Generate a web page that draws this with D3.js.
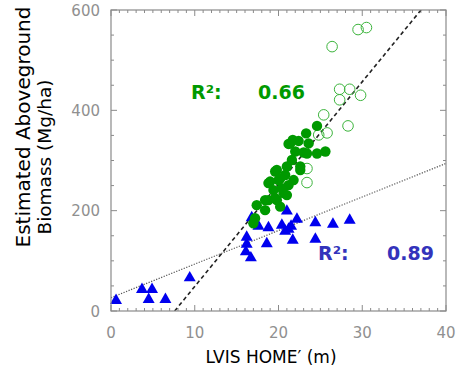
<!DOCTYPE html>
<html><head><meta charset="utf-8">
<script src="https://cdnjs.cloudflare.com/ajax/libs/d3/7.8.5/d3.min.js"></script>
<style>html,body{margin:0;padding:0;background:#fff;}svg{display:block;}</style>
</head><body><div id="chart"></div>
<script>
// ---- data ----
const triX = [0.6, 3.7, 4.9, 4.5, 6.5, 9.4, 16.8, 16.2, 16.2, 16.1, 16.7, 17.6, 18.8, 18.6, 20.4, 21.0, 20.8, 21.5, 22.2, 21.7, 24.4, 24.4, 26.5, 28.5, 21.2];
const triY = [23, 45, 45, 25, 25, 68, 188, 149, 135, 120, 108, 171, 168, 136, 173, 201, 161, 171, 185, 143, 178, 145, 175, 183, 165];

const fillX = [24.6, 23.3, 21.7, 21.2, 22.4, 22.0, 23.0, 24.6, 25.6, 21.6, 22.6, 19.6, 20.8, 20.0, 21.8, 18.8, 19.4, 21.2, 20.6, 19.8, 18.8, 17.4, 18.4, 20.2, 21.4, 23.6, 23.4, 19.8, 21.0, 22.6, 20.2, 19.0, 20.4, 19.6, 21.0, 18.4, 17.2, 17.0];
const fillY = [369, 354, 341, 333, 339, 318, 316, 314, 318, 301, 288, 278, 271, 261, 261, 255, 241, 251, 235, 221, 221, 211, 201, 208, 334, 334, 314, 281, 288, 281, 264, 258, 245, 225, 231, 221, 185, 175];

const openX = [29.5, 30.5, 26.4, 27.3, 28.5, 27.3, 29.8, 25.4, 28.3, 25.8, 24.8, 23.4, 23.4];
const openY = [561, 565, 527, 442, 442, 421, 430, 391, 369, 355, 351, 284, 256];

const xTicks = [0, 10, 20, 30, 40];
const yTicks = [0, 200, 400, 600];
const dashedLine = {x0: 7.6, slope: 20.4};      // y = slope*(x - x0)
const dottedLine = {intercept: 26.6, slope: 6.69}; // y = a + b x
const labels = {xTitle: "LVIS HOME\u2032 (m)", yTitle1: "Estimated Aboveground", yTitle2: "Biomass (Mg/ha)",
  greenR: "R\u00b2:", greenV: "0.66", blueR: "R\u00b2:", blueV: "0.89"};

// ---- layout ----
const W = 459, H = 370;
const L = 111, R = 446, T = 10, B = 311;
const svg = d3.select("#chart").append("svg").attr("width", W).attr("height", H);
const x = d3.scaleLinear().domain([0, 40]).range([L, R]);
const y = d3.scaleLinear().domain([0, 600]).range([B, T]);
const font = "'DejaVu Sans', Verdana, sans-serif";
const frameCol = "#8a8a8a";

svg.append("clipPath").attr("id", "clip").append("rect").attr("x", L).attr("y", T).attr("width", R - L).attr("height", B - T);

// ticks (inward on all four sides)
const minorX = d3.range(0, 41, 1), minorY = d3.range(0, 601, 50);
const tk = svg.append("g").attr("stroke", frameCol).attr("stroke-width", 1);
minorX.forEach(v => {
  const len = v % 10 === 0 ? 6 : 3;
  tk.append("line").attr("x1", x(v)).attr("x2", x(v)).attr("y1", B).attr("y2", B - len);
  tk.append("line").attr("x1", x(v)).attr("x2", x(v)).attr("y1", T).attr("y2", T + len);
});
minorY.forEach(v => {
  const len = v % 200 === 0 ? 6 : 3;
  tk.append("line").attr("y1", y(v)).attr("y2", y(v)).attr("x1", L).attr("x2", L + len);
  tk.append("line").attr("y1", y(v)).attr("y2", y(v)).attr("x1", R).attr("x2", R - len);
});

// fit lines
const plot = svg.append("g").attr("clip-path", "url(#clip)");
plot.append("line")
  .attr("x1", x(dashedLine.x0)).attr("y1", y(0))
  .attr("x2", x(dashedLine.x0 + 600 / dashedLine.slope)).attr("y2", y(600))
  .attr("stroke", "#222").attr("stroke-width", 1.6).attr("stroke-dasharray", "4,3");
plot.append("line")
  .attr("x1", x(0)).attr("y1", y(dottedLine.intercept))
  .attr("x2", x(40)).attr("y2", y(dottedLine.intercept + 40 * dottedLine.slope))
  .attr("stroke", "#555").attr("stroke-width", 1.2).attr("stroke-dasharray", "1.2,1.5");

// points
const sym = d3.symbol().type(d3.symbolTriangle).size(62);
svg.append("g").selectAll("path").data(d3.range(triX.length)).join("path")
  .attr("d", sym).attr("transform", i => `translate(${x(triX[i])},${y(triY[i]) + 1})`)
  .attr("fill", "#0000ee");
svg.append("g").selectAll("circle").data(d3.range(openX.length)).join("circle")
  .attr("cx", i => x(openX[i])).attr("cy", i => y(openY[i])).attr("r", 5.3)
  .attr("fill", "none").attr("stroke", "#3cb43c").attr("stroke-width", 1);
svg.append("g").selectAll("circle").data(d3.range(fillX.length)).join("circle")
  .attr("cx", i => x(fillX[i])).attr("cy", i => y(fillY[i])).attr("r", 5.2)
  .attr("fill", "#009900");

// frame
svg.append("rect").attr("x", L).attr("y", T).attr("width", R - L).attr("height", B - T)
  .attr("fill", "none").attr("stroke", frameCol).attr("stroke-width", 1.2);

// tick labels
svg.append("g").selectAll("text").data(xTicks).join("text")
  .attr("x", d => x(d)).attr("y", 338).attr("text-anchor", "middle")
  .attr("font-family", font).attr("font-size", 15).attr("fill", "#909090").text(d => d);
svg.append("g").selectAll("text").data(yTicks).join("text")
  .attr("x", 100).attr("y", d => y(d) + 5.5).attr("text-anchor", "end")
  .attr("font-family", font).attr("font-size", 15).attr("fill", "#909090").text(d => d);

// axis titles
svg.append("text").attr("x", 271).attr("y", 363).attr("text-anchor", "middle")
  .attr("font-family", font).attr("font-size", 17).attr("fill", "#000").text(labels.xTitle);
svg.append("text").attr("transform", "translate(30,127) rotate(-90)").attr("text-anchor", "middle")
  .attr("font-family", font).attr("font-size", 20).attr("fill", "#000").text(labels.yTitle1);
svg.append("text").attr("transform", "translate(51,157) rotate(-90)").attr("text-anchor", "middle")
  .attr("font-family", font).attr("font-size", 18.5).attr("fill", "#000").text(labels.yTitle2);

// R² annotations
const ann = [
  {t: labels.greenR, x: 191, y: 99, c: "#009900"}, {t: labels.greenV, x: 258, y: 99, c: "#009900"},
  {t: labels.blueR, x: 318, y: 260, c: "#3333bb"}, {t: labels.blueV, x: 387, y: 260, c: "#3333bb"}
];
svg.append("g").selectAll("text").data(ann).join("text")
  .attr("x", d => d.x).attr("y", d => d.y).attr("font-family", font).attr("font-weight", "bold")
  .attr("font-size", 19).attr("fill", d => d.c).text(d => d.t);
</script></body></html>
